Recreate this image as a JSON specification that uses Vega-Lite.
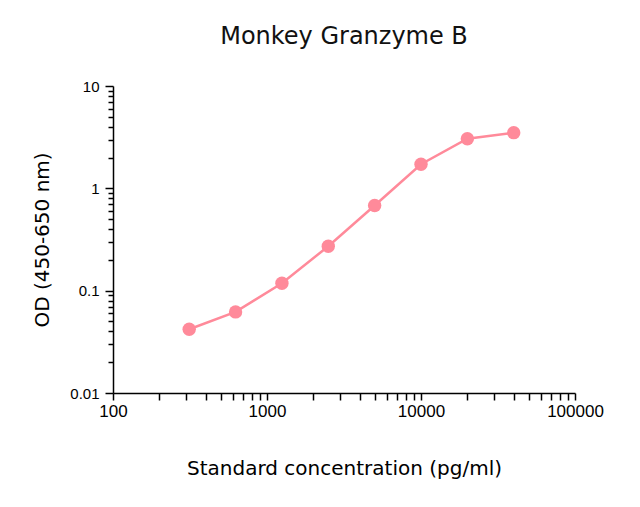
{
  "$schema": "https://vega.github.io/schema/vega-lite/v6.json",
  "autosize": "none",
  "padding": {"left": 113, "top": 86, "right": 65, "bottom": 114},
  "width": 462,
  "height": 307,
  "background": "white",
  "title": {
    "text": "Monkey Granzyme B",
    "font": "DejaVu Sans",
    "fontSize": 24,
    "fontWeight": "normal",
    "color": "#111",
    "anchor": "middle",
    "offset": 30
  },
  "config": {
    "view": {"stroke": null},
    "axis": {
      "domainColor": "#000",
      "domainWidth": 1.5,
      "tickColor": "#000",
      "tickWidth": 1.5,
      "grid": false,
      "labelFlush": false,
      "labelFont": "Liberation Sans",
      "labelColor": "#000",
      "titleFont": "DejaVu Sans",
      "titleFontWeight": "normal",
      "titleColor": "#000"
    }
  },
  "data": {
    "values": [
      {"conc": 312.5, "od": 0.042},
      {"conc": 625, "od": 0.062},
      {"conc": 1250, "od": 0.118},
      {"conc": 2500, "od": 0.272},
      {"conc": 5000, "od": 0.68},
      {"conc": 10000, "od": 1.72},
      {"conc": 20000, "od": 3.05},
      {"conc": 40000, "od": 3.5}
    ]
  },
  "encoding": {
    "x": {
      "field": "conc",
      "type": "quantitative",
      "scale": {"type": "log", "domain": [100, 100000], "nice": false},
      "axis": {
        "title": "Standard concentration (pg/ml)",
        "titleFontSize": 20,
        "titlePadding": 39,
        "labelFontSize": 17,
        "labelPadding": 3,
        "tickSize": 7,
        "values": [100, 200, 300, 400, 500, 600, 700, 800, 900, 1000, 2000, 3000, 4000, 5000, 6000, 7000, 8000, 9000, 10000, 20000, 30000, 40000, 50000, 60000, 70000, 80000, 90000, 100000],
        "labelExpr": "indexof(['100','1000','10000','100000'], datum.value + '') >= 0 ? datum.value + '' : ''",
        "labelOverlap": false
      }
    },
    "y": {
      "field": "od",
      "type": "quantitative",
      "scale": {"type": "log", "domain": [0.01, 10], "nice": false},
      "axis": {
        "title": "OD (450-650 nm)",
        "titleFontSize": 20,
        "titlePadding": 17,
        "labelFontSize": 15,
        "labelPadding": 6,
        "tickSize": {"condition": {"test": "abs(log(datum.value) / LN10 - round(log(datum.value) / LN10)) < 0.000001", "value": 8}, "value": 5},
        "values": [0.01, 0.02, 0.03, 0.04, 0.05, 0.06, 0.07, 0.08, 0.09, 0.1, 0.2, 0.3, 0.4, 0.5, 0.6, 0.7, 0.8, 0.9, 1, 2, 3, 4, 5, 6, 7, 8, 9, 10],
        "labelExpr": "datum.value == 0.01 ? '0.01' : datum.value == 0.1 ? '0.1' : datum.value == 1 ? '1' : datum.value == 10 ? '10' : ''",
        "labelOverlap": false
      }
    }
  },
  "layer": [
    {"mark": {"type": "line", "color": "#FF8A9A", "strokeWidth": 2.5}},
    {"mark": {"type": "circle", "color": "#FF8A9A", "size": 180, "opacity": 1}}
  ]
}
